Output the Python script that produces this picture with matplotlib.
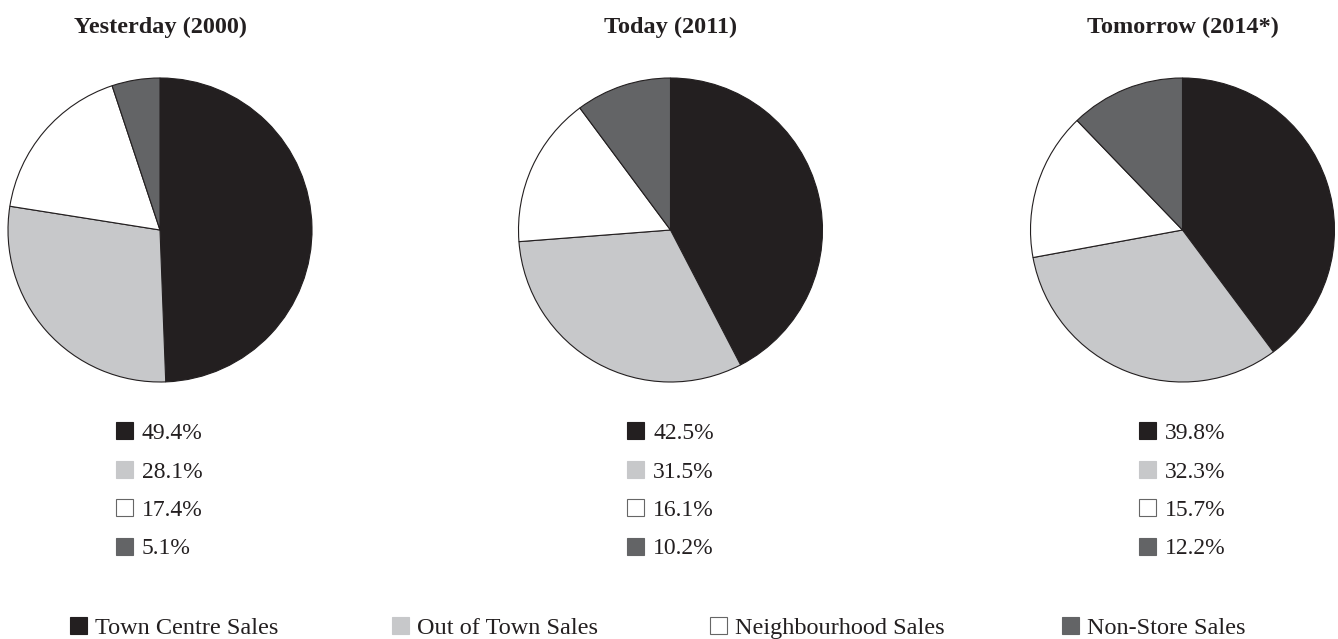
import matplotlib
matplotlib.use("Agg")
import matplotlib.pyplot as plt
from matplotlib.patches import Rectangle

plt.rcParams['font.family'] = ['Liberation Serif', 'DejaVu Serif']

# data
titles = ["Yesterday (2000)", "Today (2011)", "Tomorrow (2014*)"]
categories = ["Town Centre Sales", "Out of Town Sales", "Neighbourhood Sales", "Non-Store Sales"]
yesterday = [49.4, 28.1, 17.4, 5.1]
today = [42.5, 31.5, 16.1, 10.2]
tomorrow = [39.8, 32.3, 15.7, 12.2]
series = [yesterday, today, tomorrow]
colors = ["#231f20", "#c7c8ca", "#ffffff", "#636466"]

W, H = 1338, 639
fig = plt.figure(figsize=(W / 100, H / 100), dpi=100)

# overlay for texts and legend squares, in pixel coords
over = fig.add_axes([0, 0, 1, 1])
over.set_xlim(0, W)
over.set_ylim(H, 0)
over.axis('off')

centers = [160, 670.5, 1182.5]
cy = 230
r = 152
leg_x = [116, 627, 1139]
sq = 17

for i, vals in enumerate(series):
    cx = centers[i]
    ax = fig.add_axes([(cx - r) / W, (H - cy - r) / H, 2 * r / W, 2 * r / H])
    ax.pie(vals, colors=colors, startangle=90, counterclock=False,
           wedgeprops=dict(edgecolor="#231f20", linewidth=0.8))
    ax.set_xlim(-1, 1)
    ax.set_ylim(-1, 1)
    ax.set_aspect('equal')
    ax.axis('off')

    over.text(cx, 33, titles[i], ha='center', va='baseline', fontsize=17.5,
              fontweight='bold', color="#231f20")

    # per-pie value legend
    for j, v in enumerate(vals):
        base = 439 + j * 38.5
        over.add_patch(Rectangle((leg_x[i], base - sq), sq, sq, facecolor=colors[j],
                                 edgecolor="#666666" if j == 2 else colors[j], linewidth=0.8))
        over.text(leg_x[i] + 26, base, f"{v}%", ha='left', va='baseline', fontsize=17,
                  color="#231f20")

# bottom legend
bx = [70, 392, 710, 1062]
for j, name in enumerate(categories):
    over.add_patch(Rectangle((bx[j], 634 - sq), sq, sq, facecolor=colors[j],
                             edgecolor="#666666" if j == 2 else colors[j], linewidth=0.8))
    over.text(bx[j] + 25, 634, name, ha='left', va='baseline', fontsize=17.5,
              color="#231f20")

fig.savefig("out.png", dpi=100)
